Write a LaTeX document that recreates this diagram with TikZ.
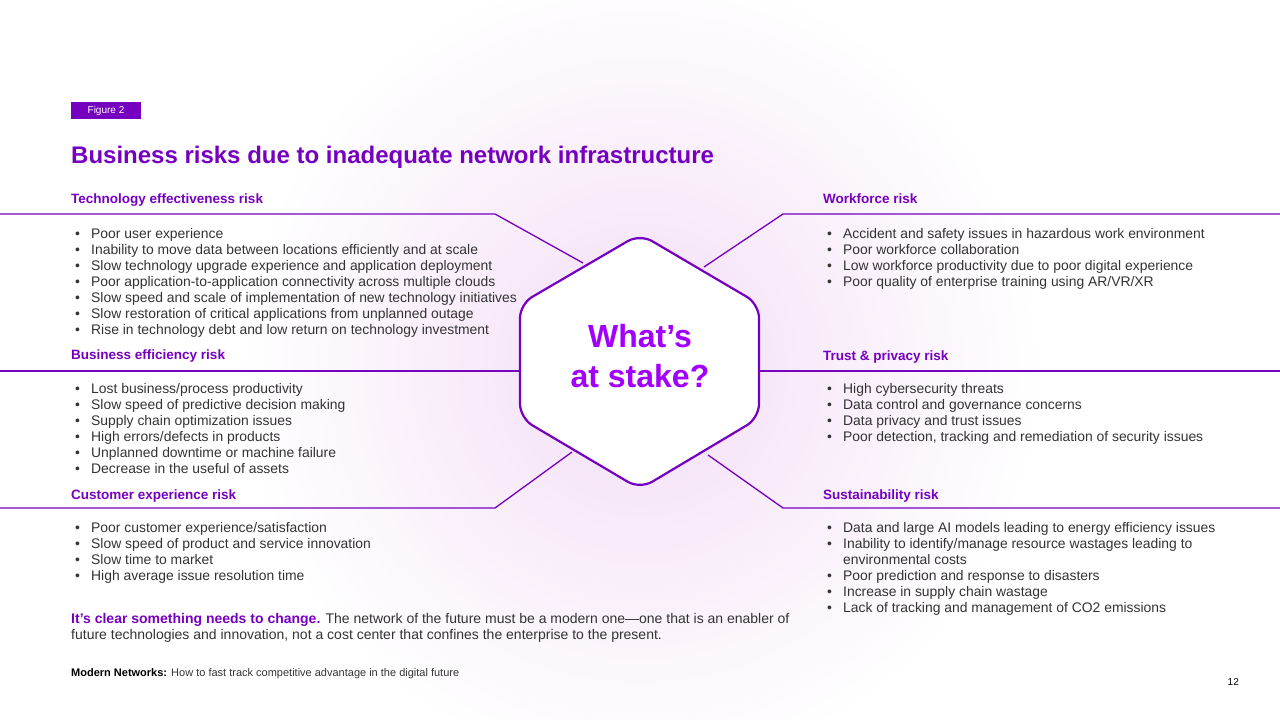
\documentclass[tikz,border=0pt]{standalone}
\usepackage{fontspec}
\setmainfont{Liberation Sans}
\usetikzlibrary{positioning}
\definecolor{acpurple}{HTML}{7500C0}
\definecolor{acbright}{HTML}{A100FF}
\definecolor{bodytext}{HTML}{333333}
\definecolor{glow}{HTML}{F3DDF6}
\newcommand{\itm}[1]{\makebox[16pt][l]{\textbullet}#1}
\tikzset{
  riskline/.style={draw=acpurple, line width=1.3pt},
  risktitle/.style={anchor=base west, inner sep=0pt, text=acpurple, font=\bfseries\fontsize{13.5}{16}\selectfont},
  risklist/.style={anchor=north west, inner sep=0pt, align=left, text=bodytext, font=\fontsize{13.9}{16}\selectfont},
}
\begin{document}
\begin{tikzpicture}[x=1pt,y=-1pt]
  \useasboundingbox (0,0) rectangle (1280,720);
  % soft glow behind the hexagon
  \shade[inner color=glow, outer color=white] (640,370) circle (400);
  % header
  \node[fill=acpurple, text=white, font=\fontsize{10}{12}\selectfont, minimum width=70pt, minimum height=17pt, inner sep=0pt] (fig) at (106,110.5) {Figure 2};
  \node[anchor=base west, inner sep=0pt, text=acpurple, font=\bfseries\fontsize{24}{28}\selectfont] (title) at (71,163) {Business risks due to inadequate network infrastructure};
  % hexagon
  \coordinate (ht) at (640,234); \coordinate (hr1) at (759,304); \coordinate (hr2) at (759,418);
  \coordinate (hb) at (640,489); \coordinate (hl2) at (520,418); \coordinate (hl1) at (520,304);
  % connector ends
  \coordinate (lt0) at (0,214); \coordinate (lt1) at (495,214); \coordinate (lt2) at (583,263);
  \coordinate (lm0) at (0,371); \coordinate (lm1) at (521,371);
  \coordinate (lb0) at (0,508); \coordinate (lb1) at (495,508); \coordinate (lb2) at (572,452);
  \coordinate (rt0) at (1280,214); \coordinate (rt1) at (783,214); \coordinate (rt2) at (704,267);
  \coordinate (rm0) at (1280,371); \coordinate (rm1) at (758,371);
  \coordinate (rb0) at (1280,508); \coordinate (rb1) at (783,508); \coordinate (rb2) at (708,455);
  \draw[riskline] (lt0) -- (lt1) -- (lt2);
  \draw[riskline] (lm0) -- (lm1);
  \draw[riskline] (lb0) -- (lb1) -- (lb2);
  \draw[riskline] (rt0) -- (rt1) -- (rt2);
  \draw[riskline] (rm0) -- (rm1);
  \draw[riskline] (rb0) -- (rb1) -- (rb2);
  \draw[draw=acpurple, line width=2.2pt, fill=white, rounded corners=14pt]
    (ht) -- (hr1) -- (hr2) -- (hb) -- (hl2) -- (hl1) -- cycle;
  \node[text=acbright, align=center, font=\bfseries\fontsize{32}{40}\selectfont] (stake) at (640,356) {What’s\\at stake?};
  % left side
  \node[risktitle] (tech) at (71,203) {Technology effectiveness risk};
  \node[risklist] (techlist) at (75,228) {\itm{Poor user experience}\\\itm{Inability to move data between locations efficiently and at scale}\\\itm{Slow technology upgrade experience and application deployment}\\\itm{Poor application-to-application connectivity across multiple clouds}\\\itm{Slow speed and scale of implementation of new technology initiatives}\\\itm{Slow restoration of critical applications from unplanned outage}\\\itm{Rise in technology debt and low return on technology investment}};
  \node[risktitle] (busi) at (71,359) {Business efficiency risk};
  \node[risklist] (busilist) at (75,383) {\itm{Lost business/process productivity}\\\itm{Slow speed of predictive decision making}\\\itm{Supply chain optimization issues}\\\itm{High errors/defects in products}\\\itm{Unplanned downtime or machine failure}\\\itm{Decrease in the useful of assets}};
  \node[risktitle] (cust) at (71,499) {Customer experience risk};
  \node[risklist] (custlist) at (75,522) {\itm{Poor customer experience/satisfaction}\\\itm{Slow speed of product and service innovation}\\\itm{Slow time to market}\\\itm{High average issue resolution time}};
  % right side
  \node[risktitle] (work) at (823,203) {Workforce risk};
  \node[risklist] (worklist) at (827,228) {\itm{Accident and safety issues in hazardous work environment}\\\itm{Poor workforce collaboration}\\\itm{Low workforce productivity due to poor digital experience}\\\itm{Poor quality of enterprise training using AR/VR/XR}};
  \node[risktitle] (trust) at (823,360) {Trust \& privacy risk};
  \node[risklist] (trustlist) at (827,383) {\itm{High cybersecurity threats}\\\itm{Data control and governance concerns}\\\itm{Data privacy and trust issues}\\\itm{Poor detection, tracking and remediation of security issues}};
  \node[risktitle] (sust) at (823,499) {Sustainability risk};
  \node[risklist] (sustlist) at (827,522) {\itm{Data and large AI models leading to energy efficiency issues}\\\itm{Inability to identify/manage resource wastages leading to}\\\hspace*{16pt}environmental costs\\\itm{Poor prediction and response to disasters}\\\itm{Increase in supply chain wastage}\\\itm{Lack of tracking and management of CO2 emissions}};
  % closing text and footer
  \node[anchor=north west, inner sep=0pt, align=left, text=bodytext, font=\fontsize{14}{16}\selectfont] (closing) at (71,613) {\textcolor{acpurple}{\bfseries It’s clear something needs to change.} The network of the future must be a modern one—one that is an enabler of\\future technologies and innovation, not a cost center that confines the enterprise to the present.};
  \node[anchor=base west, inner sep=0pt, font=\fontsize{11}{12}\selectfont, text=bodytext] (foot) at (71,676) {\textbf{\textcolor{black}{Modern Networks:}} How to fast track competitive advantage in the digital future};
  \node[anchor=base east, inner sep=0pt, font=\fontsize{10}{12}\selectfont, text=black] (page) at (1239,685) {12};
\end{tikzpicture}
\end{document}
